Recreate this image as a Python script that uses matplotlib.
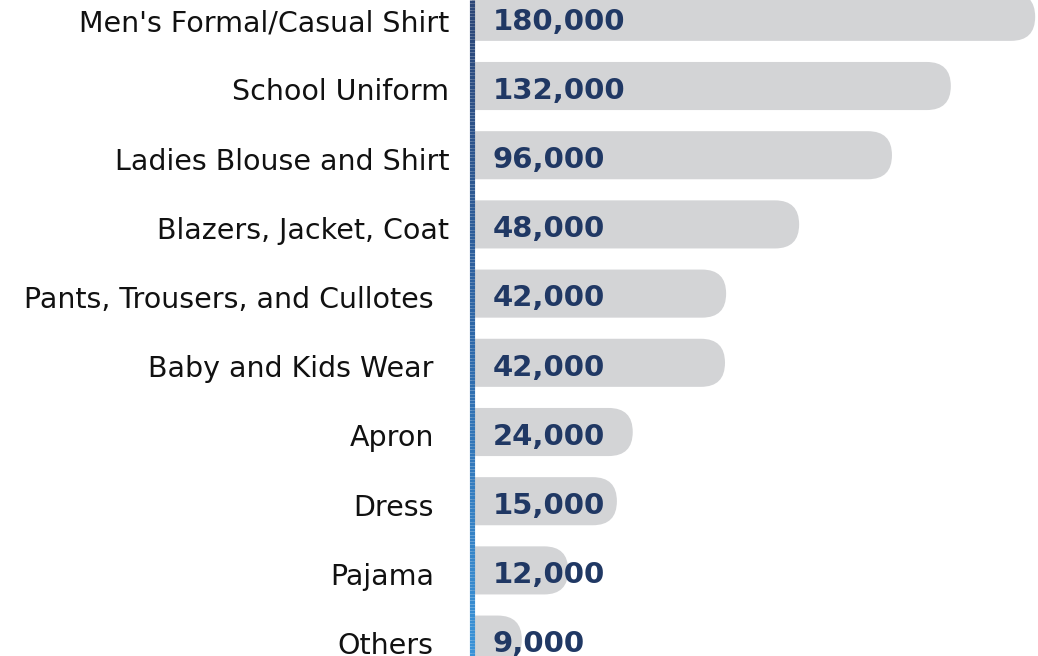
import matplotlib
matplotlib.use("Agg")
import matplotlib.pyplot as plt
import numpy as np
from matplotlib.patches import FancyBboxPatch
from matplotlib.collections import LineCollection
from matplotlib.colors import LinearSegmentedColormap

# ---- data ----
categories = ["Men's Formal/Casual Shirt", "School Uniform", "Ladies Blouse and Shirt",
              "Blazers, Jacket, Coat", "Pants, Trousers, and Cullotes", "Baby and Kids Wear",
              "Apron", "Dress", "Pajama", "Others"]
value_labels = ["180,000", "132,000", "96,000", "48,000", "42,000", "42,000",
                "24,000", "15,000", "12,000", "9,000"]
# bar lengths as drawn in the reference (relative scale, 0-100)
bar_scale = [99.5, 84.6, 74.2, 57.8, 44.9, 44.7, 28.4, 25.6, 17.0, 8.8]

W, H, DPI = 1038, 656, 100
fig = plt.figure(figsize=(W / DPI, H / DPI), dpi=DPI)
ax_left_px = 472
ax = fig.add_axes([ax_left_px / W, 0, (W - ax_left_px) / W, 1])
ax.set_xlim(0, 100)
ax.set_ylim(9.237, -0.243)

bar_h = 0.695
y = np.arange(len(categories))
bars = ax.barh(y, bar_scale, height=bar_h, color="none", edgecolor="none")

fig.canvas.draw()
px = ax.transData.transform((1, 0))[0] - ax.transData.transform((0, 0))[0]
py = abs(ax.transData.transform((0, 1))[1] - ax.transData.transform((0, 0))[1])
rx = (bar_h / 2) * py / px

for rect in bars:
    x0, y0 = rect.get_x(), rect.get_y()
    w, h = rect.get_width(), rect.get_height()
    p = FancyBboxPatch((x0 - rx, y0), w + rx, h,
                       boxstyle=f"round,pad=0,rounding_size={rx}",
                       mutation_aspect=px / py,
                       facecolor="#D3D4D6", edgecolor="none", zorder=2)
    p.set_clip_path(ax.patch)
    ax.add_patch(p)

# value labels inside bars
for yi, lab in zip(y, value_labels):
    ax.annotate(lab, xy=(0, yi), xytext=(15, -9.2), textcoords="offset points",
                ha="left", va="baseline", fontsize=21, fontweight="bold",
                family="DejaVu Sans", color="#203864", zorder=4, annotation_clip=False)

# category labels
for i, (yi, lab) in enumerate(zip(y, categories)):
    pad = 16.5 if i < 4 else 27.5
    ax.annotate(lab, xy=(0, yi), xytext=(-pad, -10.3), textcoords="offset points",
                ha="right", va="baseline", fontsize=20.5, family="DejaVu Sans",
                color="#111111", annotation_clip=False)

ax.set_yticks([])
ax.set_xticks([])
for s in ax.spines.values():
    s.set_visible(False)

# gradient axis line
n = 200
ys = np.linspace(1, 0, n + 1)
segs = [[(0, ys[k]), (0, ys[k + 1])] for k in range(n)]
cmap = LinearSegmentedColormap.from_list("ax", ["#2C4677", "#2E67A8", "#3A93D8"])
lc = LineCollection(segs, colors=cmap(np.linspace(0, 1, n)), linewidths=3.7,
                    transform=ax.transAxes, clip_on=False, zorder=5, capstyle="butt")
ax.add_collection(lc)

fig.savefig("out.png", dpi=DPI)
